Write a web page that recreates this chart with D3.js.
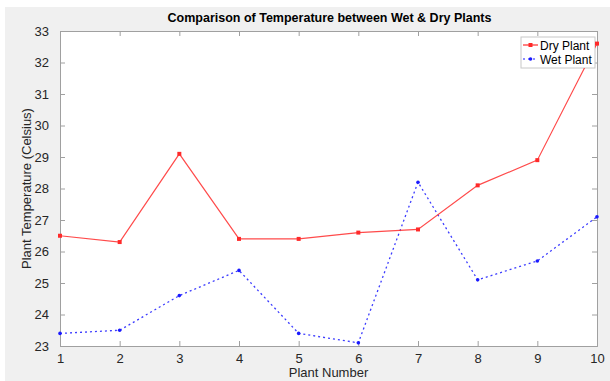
<!DOCTYPE html>
<html><head><meta charset="utf-8">
<script src="https://cdn.jsdelivr.net/npm/d3@7"></script>
<style>body{margin:0;background:#fff}svg{display:block}text{font-family:"Liberation Sans",Arial,sans-serif}</style>
</head><body>
<svg id="c" width="610" height="381"></svg>
<script>
const plants = [1,2,3,4,5,6,7,8,9,10];
const dryPlant = [26.5,26.3,29.1,26.4,26.4,26.6,26.7,28.1,28.9,32.6];
const wetPlant = [23.4,23.5,24.6,25.4,23.4,23.1,28.2,25.1,25.7,27.1];
const yTicks = [23,24,25,26,27,28,29,30,31,32,33];
const xTicks = [1,2,3,4,5,6,7,8,9,10];
const seriesNames = ["Dry Plant","Wet Plant"];

const svg = d3.select("#c");
const m = {l:60,t:31,r:597,b:346};
svg.append("rect").attr("x",5).attr("y",7).attr("width",605).attr("height",374).attr("fill","#f0f0f0");
svg.append("rect").attr("x",m.l).attr("y",m.t).attr("width",m.r-m.l).attr("height",m.b-m.t).attr("fill","#fff");

const x = d3.scaleLinear().domain([1,10]).range([m.l,m.r]);
const y = d3.scaleLinear().domain([23,33]).range([m.b,m.t]);
const axCol = "#262626";
const gridCol = "#a0a0a0";

const xb = svg.append("g").attr("transform",`translate(0,${m.b})`).call(d3.axisBottom(x).tickValues(xTicks).tickSize(-5).tickPadding(8).tickFormat(d3.format("d")));
const xt = svg.append("g").attr("transform",`translate(0,${m.t})`).call(d3.axisTop(x).tickValues(xTicks).tickSize(-5).tickFormat(""));
const yl = svg.append("g").attr("transform",`translate(${m.l},0)`).call(d3.axisLeft(y).tickValues(yTicks).tickSize(-5).tickPadding(11).tickFormat(d3.format("d")));
const yr = svg.append("g").attr("transform",`translate(${m.r},0)`).call(d3.axisRight(y).tickValues(yTicks).tickSize(-5).tickFormat(""));
[xb,xt,yl,yr].forEach(g=>{
  g.selectAll(".domain").attr("stroke",gridCol).attr("stroke-width",1);
  g.selectAll(".tick line").attr("stroke",gridCol);
  g.selectAll("text").attr("fill",axCol).attr("font-size",13).attr("font-family","Liberation Sans, Arial, sans-serif");
});

const line = d3.line().x((d,i)=>x(plants[i])).y(d=>y(d));
const red = "#ff2a2a", blue = "#1a1aff";

svg.append("text").attr("x",(m.l+m.r)/2+1).attr("y",22).attr("text-anchor","middle").attr("font-size",12.5).attr("font-weight","bold").attr("fill","#000").text("Comparison of Temperature between Wet & Dry Plants");
svg.append("text").attr("x",(m.l+m.r)/2).attr("y",377).attr("text-anchor","middle").attr("font-size",13).attr("fill",axCol).text("Plant Number");
svg.append("text").attr("transform",`translate(31,${(m.t+m.b)/2}) rotate(-90)`).attr("text-anchor","middle").attr("font-size",13).attr("fill",axCol).text("Plant Temperature (Celsius)");

// legend
const lg = svg.append("g");
lg.append("rect").attr("x",521).attr("y",37).attr("width",74).attr("height",31).attr("fill","#fff").attr("stroke","#c8c8c8");
const cols=[red,blue];
seriesNames.forEach((n,i)=>{
  const yy = 45+i*14;
  lg.append("line").attr("x1",523).attr("x2",538).attr("y1",yy).attr("y2",yy).attr("stroke",cols[i]).attr("stroke-width",1.2).attr("stroke-dasharray",i?"2,3":null);
  if(i===0) lg.append("rect").attr("x",528.5).attr("y",yy-2).attr("width",4).attr("height",4).attr("fill",red);
  else lg.append("circle").attr("cx",530.5).attr("cy",yy).attr("r",1.8).attr("fill",blue);
  lg.append("text").attr("x",540).attr("y",yy+4.5).attr("font-size",12).attr("fill","#000").text(n);
});

const plot = svg.append("g");
plot.append("path").datum(wetPlant).attr("d",line).attr("fill","none").attr("stroke",blue).attr("stroke-opacity",0.85).attr("stroke-width",1.3).attr("stroke-dasharray","2,3");
plot.selectAll(".wm").data(wetPlant).enter().append("circle").attr("cx",(d,i)=>x(plants[i])).attr("cy",d=>y(d)).attr("r",1.8).attr("fill",blue);
// dry line clipped so it does not pass over the legend box
svg.append("clipPath").attr("id","noLeg").append("path")
  .attr("d",`M0,0H610V381H0Z M521,37V68H595V37Z`).attr("clip-rule","evenodd");
plot.append("path").datum(dryPlant).attr("d",line).attr("fill","none").attr("stroke",red).attr("stroke-opacity",0.85).attr("stroke-width",1.2).attr("clip-path","url(#noLeg)").attr("clip-rule","evenodd");
plot.selectAll(".dm").data(dryPlant).enter().append("rect").attr("x",(d,i)=>x(plants[i])-2).attr("y",d=>y(d)-2).attr("width",4).attr("height",4).attr("fill",red).attr("clip-path","url(#noLeg)");
</script>
</body></html>
